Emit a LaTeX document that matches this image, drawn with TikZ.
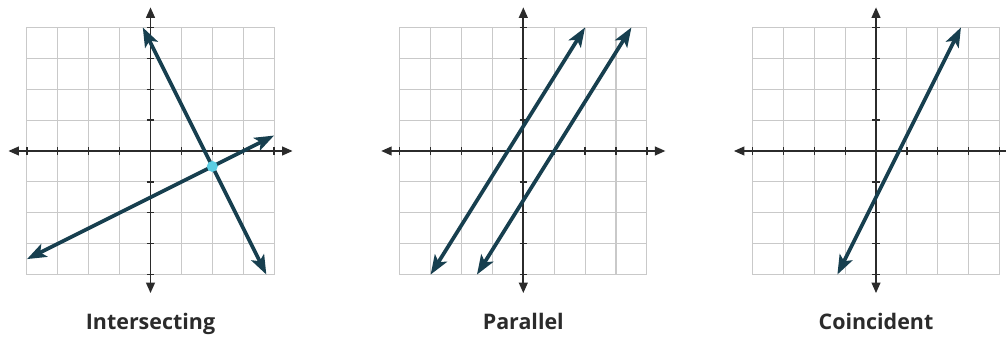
\documentclass[tikz,border=0pt]{standalone}
\usepackage{fontspec}
\setmainfont{Noto Sans}
\newfontfamily\capfont{Open Sans}
\usetikzlibrary{arrows.meta}
\definecolor{gridc}{HTML}{C9C9C9}
\definecolor{axisc}{HTML}{2B2B2B}
\definecolor{linec}{HTML}{173F4F}
\definecolor{dotc}{HTML}{5BCDE3}
\tikzset{
  gridline/.style={gridc, line width=0.6pt},
  axisline/.style={axisc, line width=1pt, {Triangle[length=6pt,width=5pt]}-{Triangle[length=6pt,width=5pt]}},
  tickline/.style={axisc, line width=0.7pt},
  graphline/.style={linec, line width=2.1pt, {Stealth[length=11pt,width=8pt,inset=2.5pt]}-{Stealth[length=11pt,width=8pt,inset=2.5pt]}},
  caption/.style={font=\capfont\bfseries\fontsize{12.2}{14}\selectfont, text=axisc, anchor=base, inner sep=0pt},
  ptdot/.style={circle, fill=dotc, inner sep=0pt, minimum size=0.22cm},
}
\newcommand{\myaxesgrid}{%
  \foreach \i in {-4,...,4} {
    \draw[gridline] (\i,-4) -- (\i,4);
    \draw[gridline] (-4,\i) -- (4,\i);
  }
  \draw[axisline] (-4.6,0) -- (4.6,0);
  \draw[axisline] (0,-4.6) -- (0,4.65);
  \foreach \i in {-4,...,4} {
    \draw[tickline] (\i,-0.12) -- (\i,0.12);
    \draw[tickline] (-0.12,\i) -- (0.12,\i);
  }%
}
\begin{document}
\begin{tikzpicture}[x=0.02cm,y=0.02cm]
\clip (0,0) rectangle (1006,337);
\fill[white] (0,0) rectangle (1006,337);
% Panel 1: Intersecting
\begin{scope}[shift={(150.5,186)},x=0.618cm,y=0.618cm]
  \myaxesgrid
  \coordinate (a1) at (-0.25,4);
  \coordinate (a2) at (3.75,-4);
  \coordinate (b1) at (-4,-3.5);
  \coordinate (b2) at (4,0.5);
  \draw[graphline] (a1) -- (a2);
  \draw[graphline] (b1) -- (b2);
  \node[ptdot] (p) at (2,-0.5) {};
\end{scope}
% Panel 2: Parallel
\begin{scope}[shift={(523.3,186)},x=0.618cm,y=0.618cm]
  \myaxesgrid
  \coordinate (c1) at (-3,-4);
  \coordinate (c2) at (2,4);
  \coordinate (d1) at (-1.5,-4);
  \coordinate (d2) at (3.5,4);
  \draw[graphline] (c1) -- (c2);
  \draw[graphline] (d1) -- (d2);
\end{scope}
% Panel 3: Coincident
\begin{scope}[shift={(876,186)},x=0.618cm,y=0.618cm]
  \myaxesgrid
  \coordinate (e1) at (-1.25,-4);
  \coordinate (e2) at (2.75,4);
  \draw[graphline] (e1) -- (e2);
\end{scope}
\node[caption] (cap1) at (150.5,7.5) {Intersecting};
\node[caption] (cap2) at (523.3,7.5) {Parallel};
\node[caption] (cap3) at (876,7.5) {Coincident};
\end{tikzpicture}
\end{document}
